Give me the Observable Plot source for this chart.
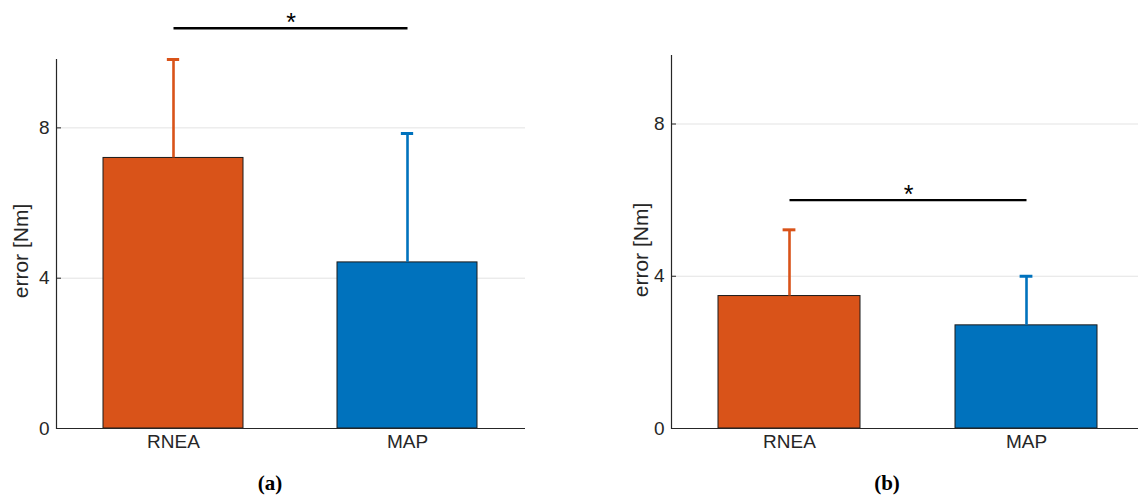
<!DOCTYPE html>
<html>
<head>
<meta charset="utf-8">
<script src="https://cdn.jsdelivr.net/npm/d3@7"></script>
<script src="https://cdn.jsdelivr.net/npm/@observablehq/plot@0.6"></script>
<style>
  html, body { margin: 0; padding: 0; background: #fff; }
  #wrap { position: relative; width: 1138px; height: 495px; overflow: hidden; font-family: "Liberation Sans", Arial, sans-serif; }
  .panel { position: absolute; top: 0; }
  .panel svg { max-width: none !important; }
  .cap { position: absolute; top: 471px; font-family: "Liberation Serif", "DejaVu Serif", serif; font-weight: bold; font-size: 21px; color: #000; transform: translateX(-50%); }
</style>
</head>
<body>
<div id="wrap">
  <div id="pa" class="panel" style="left:0px;width:569px"></div>
  <div id="pb" class="panel" style="left:569px;width:576px"></div>
  <div class="cap" style="left:270px">(a)</div>
  <div class="cap" style="left:887px">(b)</div>
</div>
<script>
// ---- data ----
const categories = ["RNEA", "MAP"];
const colors = ["#D95319", "#0072BD"];
const meanA = [7.20, 4.42];
const sdA = [2.62, 3.43];
const meanB = [3.48, 2.71];
const sdB = [1.74, 1.29];
const yTicks = [0, 4, 8];
const yLabel = "error [Nm]";
const sigA = 10.65;   // significance bar height, panel (a)
const sigB = 6.0;     // significance bar height, panel (b)
const sigText = "*";
const yMaxA = 9.82;
const yMaxB = 9.8;

function makePanel(means, sds, sigY, yMax, opts) {
  const data = categories.map((c, i) => ({cat: c, mean: means[i], upper: means[i] + sds[i], color: colors[i]}));
  const plotW = opts.width - opts.marginLeft - opts.marginRight;
  const capInset = (plotW / 2 * 0.6 - 13) / 2;
  return Plot.plot({
    width: opts.width,
    height: 460,
    marginLeft: opts.marginLeft,
    marginRight: opts.marginRight,
    marginTop: opts.marginTop,
    marginBottom: 32,
    style: {fontFamily: "'Liberation Sans', Arial, sans-serif", color: "#262626", overflow: "visible", maxWidth: "none"},
    x: {type: "band", domain: categories, paddingInner: 0.4, paddingOuter: 0.2, label: null},
    y: {domain: [0, yMax], label: null},
    color: {type: "identity"},
    marks: [
      Plot.gridY(yTicks.filter(t => t > 0), {stroke: "#e3e3e3", strokeOpacity: 1, strokeWidth: 1}),
      Plot.barY(data, {x: "cat", y: "mean", fill: "color", stroke: "#1a1a1a", strokeWidth: 1}),
      Plot.ruleX(data, {x: "cat", y1: "mean", y2: "upper", stroke: "color", strokeWidth: 2.6}),
      Plot.tickY(data, {x: "cat", y: "upper", stroke: "color", strokeWidth: 3, insetLeft: capInset, insetRight: capInset}),
      Plot.ruleY([0], {stroke: "#262626", strokeWidth: 1.2}),
      Plot.ruleY(yTicks, {stroke: "#262626", strokeWidth: 1, insetRight: plotW - 5}),
      Plot.frame({anchor: "left", stroke: "#262626", strokeWidth: 1.2}),
      Plot.axisY({ticks: yTicks, tickSize: 0, tickPadding: 7, fontSize: 19, tickFormat: d3.format("d"), label: null}),
      Plot.axisX({tickSize: 0, tickPadding: 6, fontSize: 19, label: null}),
      Plot.text([yLabel], {frameAnchor: "left", textAnchor: "middle", rotate: -90, dx: opts.labelDx, dy: opts.labelDy, fontSize: 21, fill: "#262626"}),
      Plot.link([sigY], {x1: () => categories[0], x2: () => categories[1], y1: d => d, y2: d => d, stroke: "#000", strokeWidth: 2.4}),
      Plot.text([sigY], {y: d => d, text: () => sigText, dy: -5, fontSize: 25, fill: "#000"})
    ]
  });
}

document.getElementById("pa").appendChild(makePanel(meanA, sdA, sigA, yMaxA,
  {width: 569, marginLeft: 56, marginRight: 44, marginTop: 59, labelDx: -35, labelDy: 7}));
document.getElementById("pb").appendChild(makePanel(meanB, sdB, sigB, yMaxB,
  {width: 576, marginLeft: 102, marginRight: 0, marginTop: 55, labelDx: -30, labelDy: 8}));
</script>
</body>
</html>
